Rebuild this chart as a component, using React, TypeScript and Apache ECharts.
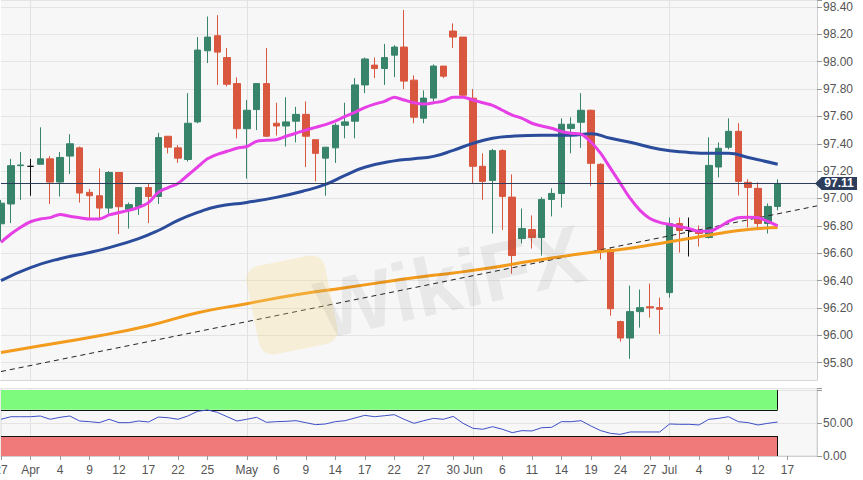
import React, { useEffect, useRef } from 'react'
import * as echarts from 'echarts'

// trading days, Mar 27 – Jul 22 (the last few are empty future slots)
const categories = [
  '03-27', '03-28', '03-29',
  '04-01', '04-02', '04-03', '04-04', '04-05', '04-08', '04-09', '04-10', '04-11', '04-12',
  '04-15', '04-16', '04-17', '04-18', '04-19', '04-22', '04-23', '04-24', '04-25', '04-26',
  '04-29', '04-30',
  '05-01', '05-02', '05-03', '05-06', '05-07', '05-08', '05-09', '05-10', '05-13', '05-14',
  '05-15', '05-16', '05-17', '05-20', '05-21', '05-22', '05-23', '05-24', '05-27', '05-28',
  '05-29', '05-30', '05-31',
  '06-03', '06-04', '06-05', '06-06', '06-07', '06-10', '06-11', '06-12', '06-13', '06-14',
  '06-17', '06-18', '06-19', '06-20', '06-21', '06-24', '06-25', '06-26', '06-27', '06-28',
  '07-01', '07-02', '07-03', '07-04', '07-05', '07-08', '07-09', '07-10', '07-11', '07-12',
  '07-15', '07-16', '07-17', '07-18', '07-19', '07-22',
]

const opens = [
  96.815, 96.96, 97.24, 97.235, 97.25, 97.29, 97.12, 97.31, 97.37, 97.045,
  97.02, 96.93, 97.19, 96.92, 96.94, 97.08, 97.015, 97.455, 97.37, 97.285,
  97.56, 98.08, 98.19, 98.03, 97.84, 97.51, 97.65, 97.84, 97.55, 97.53,
  97.565, 97.615, 97.43, 97.295, 97.37, 97.535, 97.565, 97.83, 97.975, 97.95,
  98.048, 98.107, 97.865, 97.587, 97.734, 97.968, 98.224, 98.18, 97.733, 97.235,
  97.132, 97.35, 97.01, 96.707, 96.773, 96.715, 96.993, 97.037, 97.512, 97.557,
  97.645, 97.25, 96.627, 96.1, 95.98, 96.173, 96.209, 96.202, 96.312, 96.817,
  96.766, 96.766, 96.715, 97.23, 97.374, 97.491, 97.118, 97.074, 96.817, 96.942,
]
const closes = [
  96.966, 97.24, 97.245, 97.235, 97.29, 97.12, 97.3, 97.4, 97.04, 97.02,
  96.93, 97.19, 96.94, 96.955, 97.08, 97.015, 97.445, 97.375, 97.295, 97.55,
  98.085, 98.18, 98.07, 97.835, 97.51, 97.645, 97.84, 97.455, 97.53, 97.56,
  97.615, 97.455, 97.33, 97.375, 97.535, 97.56, 97.83, 98.02, 97.95, 98.03,
  98.107, 97.858, 97.594, 97.734, 97.968, 97.894, 98.18, 97.755, 97.235, 97.125,
  97.35, 97.015, 96.583, 96.78, 96.715, 96.993, 97.037, 97.543, 97.543, 97.645,
  97.257, 96.62, 96.194, 95.98, 96.173, 96.202, 96.2, 96.19, 96.817, 96.766,
  96.766, 96.744, 97.242, 97.367, 97.491, 97.125, 97.081, 96.817, 96.942, 97.11,
]
const lows = [
  96.69, 96.82, 96.99, 97.02, 97.25, 96.96, 97.015, 97.18, 96.97, 96.85,
  96.85, 96.89, 96.74, 96.78, 96.88, 96.82, 96.96, 97.33, 97.26, 97.27,
  97.55, 97.99, 97.83, 97.82, 97.44, 97.145, 97.5, 97.45, 97.46, 97.38,
  97.41, 97.23, 97.125, 97.02, 97.26, 97.44, 97.44, 97.77, 97.88, 97.83,
  97.887, 97.8, 97.55, 97.55, 97.7, 97.88, 98.1, 97.74, 97.11, 96.99,
  96.744, 96.77, 96.45, 96.671, 96.634, 96.583, 96.869, 96.934, 97.33, 97.37,
  97.09, 96.554, 96.143, 95.953, 95.828, 96.056, 96.129, 96.01, 96.275, 96.605,
  96.576, 96.649, 96.707, 97.154, 97.359, 97.022, 96.788, 96.788, 96.744, 96.913,
]
const highs = [
  96.99, 97.29, 97.34, 97.29, 97.52, 97.31, 97.34, 97.47, 97.38, 97.07,
  97.22, 97.2, 97.19, 96.97, 97.08, 97.11, 97.48, 97.455, 97.39, 97.77,
  98.18, 98.33, 98.34, 98.1, 97.885, 97.72, 97.84, 98.1, 97.7, 97.74,
  97.67, 97.71, 97.43, 97.375, 97.55, 97.7, 97.88, 98.03, 98.03, 98.13,
  98.12, 98.378, 97.9, 97.79, 97.98, 97.968, 98.28, 98.18, 97.8, 97.33,
  97.363, 97.36, 97.176, 96.927, 96.876, 97.01, 97.074, 97.586, 97.594, 97.77,
  97.65, 97.257, 96.642, 96.107, 96.363, 96.334, 96.378, 96.275, 96.861, 96.861,
  96.861, 96.803, 97.447, 97.41, 97.586, 97.55, 97.14, 97.118, 96.964, 97.14,
]
const dojiIndexes = [3, 70]

const ma20 = [
  96.68, 96.74, 96.79, 96.83, 96.85, 96.86, 96.883, 96.87, 96.86, 96.85,
  96.85, 96.88, 96.897, 96.913, 96.935, 96.97, 97.045, 97.08, 97.11, 97.17,
  97.23, 97.29, 97.323, 97.345, 97.367, 97.38, 97.418, 97.425, 97.43, 97.455,
  97.477, 97.5, 97.52, 97.54, 97.565, 97.6, 97.63, 97.665, 97.69, 97.71,
  97.74, 97.72, 97.7, 97.69, 97.7, 97.712, 97.74, 97.74, 97.72, 97.7,
  97.68, 97.645, 97.61, 97.586, 97.55, 97.53, 97.513, 97.49, 97.477, 97.47,
  97.413, 97.33, 97.22, 97.11, 97.0, 96.913, 96.854, 96.825, 96.81, 96.795,
  96.78, 96.76, 96.76, 96.79, 96.832, 96.86, 96.862, 96.86, 96.832, 96.8,
]
// [index, value] read at intervals
const ma50 = [
  [0, 96.4], [3, 96.495], [6, 96.56], [9, 96.605], [11, 96.641], [14, 96.707], [16, 96.766],
  [18, 96.84], [20, 96.898], [22, 96.942], [25, 96.971], [28, 97.008], [31, 97.059],
  [33, 97.103], [35, 97.169], [37, 97.228], [40, 97.275], [42, 97.29], [44, 97.308],
  [46, 97.352], [48, 97.403], [50, 97.44], [52, 97.455], [55, 97.462], [58, 97.462],
  [60, 97.473], [62, 97.44], [64, 97.411], [67, 97.36], [70, 97.337], [72, 97.33],
  [74, 97.33], [76, 97.3], [79, 97.25],
]
const ma200 = [
  [0, 95.874], [3, 95.911], [10, 95.997], [15, 96.07], [20, 96.165], [25, 96.231],
  [30, 96.297], [35, 96.348], [40, 96.4], [43, 96.43], [46, 96.455], [50, 96.495],
  [53, 96.532], [56, 96.565], [60, 96.605], [63, 96.627], [67, 96.671], [70, 96.707],
  [73, 96.744], [76, 96.773], [79, 96.788],
]
const trendLine = [[0, 95.735], [83, 96.946]]
const lastPrice = 97.11

const rsi = [
  55.6, 59.5, 59.5, 59.5, 60.6, 55.6, 58.6, 60.6, 53, 52,
  50.5, 55.6, 50.5, 50.5, 53, 51.5, 59, 58, 55.6, 60.6,
  67.7, 69.7, 66.2, 59.5, 53, 55.6, 58.6, 51, 52, 52.5,
  53.5, 50.5, 47.5, 48.5, 52, 53.5, 57.6, 61.6, 59.5, 61,
  62.6, 55.6, 49.5, 53.5, 57, 55.6, 60, 49.5, 42, 40.5,
  44.4, 40.5, 35.4, 38.4, 37.9, 42.9, 43.4, 52, 52, 53.5,
  45.5, 38.4, 34.3, 32.8, 36.4, 36.4, 36.4, 36.4, 48.5, 48,
  48, 47, 55.6, 57, 59.5, 52, 50.5, 47, 49.5, 51.5,
]
const rsiUpper = 70
const rsiLower = 30

const xTickDates = [
  '03-27', '04-01', '04-04', '04-09', '04-12', '04-17', '04-22', '04-25', '05-01', '05-06',
  '05-09', '05-14', '05-17', '05-22', '05-27', '05-30', '06-03', '06-06', '06-11', '06-14',
  '06-19', '06-24', '06-27', '07-01', '07-04', '07-09', '07-12', '07-17',
]
const monthStarts = ['04-01', '05-01', '06-03', '07-01']
const monthNames = ['Apr', 'May', 'Jun', 'Jul']

const FONT = "'Liberation Sans', Arial, sans-serif"

const App = () => {
  const chartRef = useRef<HTMLDivElement | null>(null)

  useEffect(() => {
    if (!chartRef.current) return
    const chart = echarts.init(chartRef.current, null, { renderer: 'svg' })

    const lastIdx = closes.length - 1
    const lastCat = categories[lastIdx]
    const firstCat = categories[0]

    const candles = opens.map((o, i) => {
      const value = [o, closes[i], lows[i], highs[i]]
      if (dojiIndexes.includes(i)) {
        return {
          value,
          itemStyle: { color: '#111', color0: '#111', borderColor: '#111', borderColor0: '#111' },
        }
      }
      return value
    })

    const isTick = (_i: number, v: string) => xTickDates.includes(v)
    const isMonth = (_i: number, v: string) => monthStarts.includes(v)

    const option = {
      animation: false,
      textStyle: { fontFamily: FONT },
      grid: [
        {
          left: 1, right: 46, top: 0, height: 390, outerBoundsMode: 'none',
          show: true, backgroundColor: '#f7f7f8', borderWidth: 0,
        },
        {
          left: 1, right: 46, top: 388, height: 68, outerBoundsMode: 'none',
          show: true, backgroundColor: '#f7f7f8', borderColor: '#d8d8d8', borderWidth: 1,
        },
      ],
      xAxis: [
        {
          type: 'category', gridIndex: 0, data: categories, boundaryGap: false,
          axisLine: { show: false }, axisTick: { show: false }, axisLabel: { show: false },
          splitLine: { show: true, interval: isMonth, lineStyle: { color: '#e2e2e2' } },
        },
        {
          type: 'category', gridIndex: 1, data: categories, boundaryGap: false,
          axisLine: { show: true, lineStyle: { color: '#cfcfcf' } },
          axisTick: { show: true, interval: isTick, length: 4, lineStyle: { color: '#999' } },
          axisLabel: {
            show: true, interval: isTick, color: '#555', fontSize: 12, margin: 8,
            formatter: (v: string) => {
              const m = monthStarts.indexOf(v)
              return m >= 0 ? monthNames[m] : String(parseInt(v.slice(3), 10))
            },
          },
          splitLine: { show: true, interval: isMonth, lineStyle: { color: '#e2e2e2' } },
        },
      ],
      yAxis: [
        {
          type: 'value', gridIndex: 0, position: 'right', min: 95.6, max: 98.451, interval: 0.2,
          axisLine: { show: true, lineStyle: { color: '#cfcfcf' } },
          axisTick: { show: true, length: 5, lineStyle: { color: '#999' } },
          axisLabel: {
            color: '#555', fontSize: 12, margin: 6,
            formatter: (v: number) => (v < 95.7 || v > 98.42 ? '' : v.toFixed(2)),
          },
          splitLine: { show: true, lineStyle: { color: '#e4e4e4' } },
        },
        {
          type: 'value', gridIndex: 1, position: 'right', min: 0, max: 103, interval: 50,
          axisLine: { show: true, lineStyle: { color: '#cfcfcf' } },
          axisTick: { show: true, length: 5, lineStyle: { color: '#999' } },
          axisLabel: {
            color: '#555', fontSize: 12, margin: 6,
            formatter: (v: number) => (v > 60 ? '' : v.toFixed(2)),
          },
          splitLine: { show: true, lineStyle: { color: '#e4e4e4' } },
        },
      ],
      series: [
        {
          type: 'candlestick', xAxisIndex: 0, yAxisIndex: 0, barWidth: 7, data: candles,
          itemStyle: { color: '#37846b', color0: '#d9573f', borderColor: '#37846b', borderColor0: '#d9573f', borderWidth: 1 },
          markLine: {
            silent: true, symbol: 'none', label: { show: false },
            lineStyle: { color: '#2c3e5c', width: 1, type: 'solid' },
            data: [{ yAxis: lastPrice }],
          },
          markPoint: {
            silent: true,
            symbol: 'path://M0,7L7,0L44,0L44,14L7,14Z',
            symbolSize: [42, 13],
            symbolOffset: [19, 0],
            itemStyle: { color: '#2c3e5c' },
            label: { show: true, color: '#fff', fontWeight: 'bold', fontSize: 12, offset: [3, 0], formatter: lastPrice.toFixed(2) },
            data: [{ coord: [categories[categories.length - 1], lastPrice] }],
          },
        },
        {
          type: 'line', xAxisIndex: 0, yAxisIndex: 0, data: trendLine, symbol: 'none',
          lineStyle: { color: '#222', width: 1, type: [5, 4] }, z: 3,
        },
        {
          type: 'line', xAxisIndex: 0, yAxisIndex: 0, data: ma200, symbol: 'none', smooth: true,
          lineStyle: { color: '#f29b1d', width: 3 }, z: 4,
        },
        {
          type: 'line', xAxisIndex: 0, yAxisIndex: 0, data: ma50, symbol: 'none', smooth: true,
          lineStyle: { color: '#2a4c9a', width: 3 }, z: 4,
        },
        {
          type: 'line', xAxisIndex: 0, yAxisIndex: 0, data: ma20, symbol: 'none', smooth: 0.3,
          lineStyle: { color: '#e53fe5', width: 3 }, z: 4,
        },
        {
          type: 'line', xAxisIndex: 1, yAxisIndex: 1, data: rsi, symbol: 'none',
          lineStyle: { color: '#3d4fc4', width: 1 }, z: 5,
          markArea: {
            silent: true,
            data: [
              [{ xAxis: firstCat, yAxis: rsiUpper, itemStyle: { color: '#7dfb7d' } }, { xAxis: lastCat, yAxis: 100 }],
              [{ xAxis: firstCat, yAxis: 0, itemStyle: { color: '#f07a7a' } }, { xAxis: lastCat, yAxis: rsiLower }],
            ],
          },
          markLine: {
            silent: true, symbol: 'none', label: { show: false },
            lineStyle: { color: '#111', width: 1, type: 'solid' },
            data: [
              [{ coord: [firstCat, rsiUpper] }, { coord: [lastCat, rsiUpper] }],
              [{ coord: [firstCat, rsiLower] }, { coord: [lastCat, rsiLower] }],
              [{ coord: [lastCat, rsiUpper] }, { coord: [lastCat, 100] }],
              [{ coord: [lastCat, 0] }, { coord: [lastCat, rsiLower] }],
            ],
          },
        },
      ],
      graphic: [
        {
          type: 'rect', z: 100, silent: true,
          shape: { x: 0, y: 380.5, width: 863, height: 7.5 },
          style: { fill: '#ffffff' },
        },
        {
          type: 'line', z: 101, silent: true,
          shape: { x1: 0, y1: 380.5, x2: 817, y2: 380.5 },
          style: { stroke: '#d8d8d8', lineWidth: 1 },
        },
        {
          type: 'group', z: 101, silent: true,
          children: [0, 1.5, 3].map((d) => ({
            type: 'line',
            shape: { x1: 0, y1: 382.5 + d, x2: 14, y2: 382.5 + d },
            style: { stroke: '#8a8a8a', lineWidth: 0.8 },
          })),
        },
        {
          type: 'rect', z: 50, silent: true,
          x: 292, y: 305, rotation: 0.2,
          shape: { x: -40, y: -45, width: 80, height: 90, r: 14 },
          style: { fill: 'rgba(248, 214, 130, 0.28)' },
        },
        {
          type: 'text', z: 50, silent: true,
          x: 450, y: 282, rotation: 0.22,
          style: {
            text: 'WikiFX', fontSize: 82, fontWeight: 'bold', fontFamily: FONT,
            fill: 'rgba(60, 60, 60, 0.08)', align: 'center', verticalAlign: 'middle',
          },
        },
      ],
    }

    chart.setOption(option as any)
    return () => chart.dispose()
  }, [])

  return <div ref={chartRef} style={{ position: 'fixed', left: 0, top: 0, width: 863, height: 480, background: '#fff' }} />
}

export default App
